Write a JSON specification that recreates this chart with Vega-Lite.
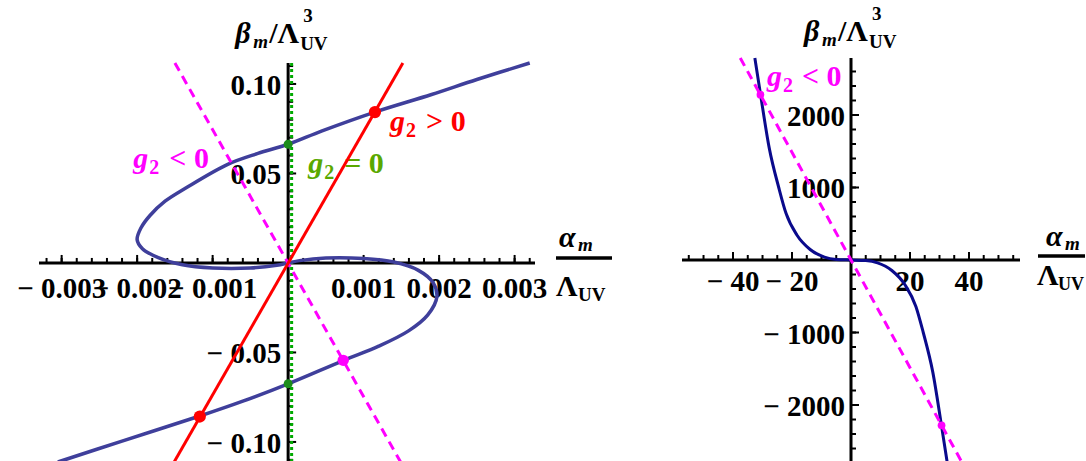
{
"$schema":"https://vega.github.io/schema/vega-lite/v6.json",
"background":"white",
"padding":{"left":17,"top":5,"right":0,"bottom":0},
"autosize":{"type":"pad"},
"config":{"view":{"stroke":null},"text":{"font":"Liberation Serif","fontWeight":"bold"}},
"bounds":"flush",
"spacing":147,
"datasets":{
"curveL":[{"o":1,"x":-0.00305,"y":-0.1112},{"o":2,"x":-0.0022,"y":-0.0995},{"o":3,"x":-0.00117,"y":-0.0855},{"o":4,"x":-0.0006,"y":-0.0772},{"o":5,"x":0,"y":-0.0675},{"o":6,"x":0.00073,"y":-0.0545},{"o":7,"x":0.0012,"y":-0.0465},{"o":8,"x":0.0016,"y":-0.0378},{"o":9,"x":0.00185,"y":-0.029},{"o":10,"x":0.00197,"y":-0.019},{"o":11,"x":0.00192,"y":-0.011},{"o":12,"x":0.00172,"y":-0.004},{"o":13,"x":0.0014,"y":0.0005},{"o":14,"x":0.001,"y":0.0025},{"o":15,"x":0.0005,"y":0.0028},{"o":16,"x":0.00015,"y":0.0013},{"o":17,"x":0,"y":0},{"o":18,"x":-0.00015,"y":-0.0013},{"o":19,"x":-0.0005,"y":-0.0028},{"o":20,"x":-0.001,"y":-0.0028},{"o":21,"x":-0.0014,"y":-0.001},{"o":22,"x":-0.00172,"y":0.003},{"o":23,"x":-0.00193,"y":0.008},{"o":24,"x":-0.002,"y":0.013},{"o":25,"x":-0.00195,"y":0.0195},{"o":26,"x":-0.00183,"y":0.0265},{"o":27,"x":-0.00163,"y":0.0345},{"o":28,"x":-0.00135,"y":0.042},{"o":29,"x":-0.0008,"y":0.0551},{"o":30,"x":-0.0004,"y":0.0612},{"o":31,"x":0,"y":0.0663},{"o":32,"x":0.00045,"y":0.0738},{"o":33,"x":0.00115,"y":0.0843},{"o":34,"x":0.0019,"y":0.0941},{"o":35,"x":0.0025,"y":0.1025},{"o":36,"x":0.0032,"y":0.1117}],
"redL":[{"x":-0.00151,"y":-0.1112},{"x":0.00152,"y":0.1117}],
"pinkL":[{"x":-0.0015,"y":0.1117},{"x":0.00149,"y":-0.1112}],
"greenL":[{"x":0,"y":-0.1112},{"x":0,"y":0.1117}],
"dotRedL":[{"x":0.00115,"y":0.0843},{"x":-0.00117,"y":-0.0858}],
"dotGreenL":[{"x":0,"y":0.0663},{"x":0,"y":-0.0675}],
"dotPinkL":[{"x":0.00073,"y":-0.0544}],
"annL":[{"x":0.00135,"y":0.0737,"s":"gt","op":"> 0"},{"x":0.000265,"y":0.0503,"s":"eq","op":"= 0"},{"x":-0.00205,"y":0.0531,"s":"lt","op":"< 0"}],
"minLX":[{"v":-0.0032},{"v":-0.003},{"v":-0.0028},{"v":-0.0026},{"v":-0.0024},{"v":-0.0022},{"v":-0.002},{"v":-0.0018},{"v":-0.0016},{"v":-0.0014},{"v":-0.0012},{"v":-0.001},{"v":-0.0008},{"v":-0.0006},{"v":-0.0004},{"v":-0.0002},{"v":0.0002},{"v":0.0004},{"v":0.0006},{"v":0.0008},{"v":0.001},{"v":0.0012},{"v":0.0014},{"v":0.0016},{"v":0.0018},{"v":0.002},{"v":0.0022},{"v":0.0024},{"v":0.0026},{"v":0.0028},{"v":0.003},{"v":0.0032}],
"minLY":[{"v":-0.11},{"v":-0.1},{"v":-0.09},{"v":-0.08},{"v":-0.07},{"v":-0.06},{"v":-0.05},{"v":-0.04},{"v":-0.03},{"v":-0.02},{"v":-0.01},{"v":0.01},{"v":0.02},{"v":0.03},{"v":0.04},{"v":0.05},{"v":0.06},{"v":0.07},{"v":0.08},{"v":0.09},{"v":0.1},{"v":0.11}],
"majLX":[{"v":-0.003,"label":"− 0.003"},{"v":-0.002,"label":"− 0.002"},{"v":-0.001,"label":"− 0.001"},{"v":0.001,"label":"0.001"},{"v":0.002,"label":"0.002"},{"v":0.003,"label":"0.003"}],
"majLY":[{"v":-0.1,"label":"− 0.10"},{"v":-0.05,"label":"− 0.05"},{"v":0.05,"label":"0.05"},{"v":0.1,"label":"0.10"}],
"curveR":[{"x":-32.6,"y":2786},{"x":-30.7,"y":2290},{"x":-27.7,"y":1540},{"x":-24.5,"y":1000},{"x":-22,"y":640},{"x":-18.35,"y":345},{"x":-13.85,"y":145},{"x":-9,"y":40},{"x":-5,"y":8},{"x":0,"y":0},{"x":5,"y":-8},{"x":9,"y":-40},{"x":13.85,"y":-145},{"x":18.35,"y":-345},{"x":22,"y":-640},{"x":24.5,"y":-1000},{"x":27.7,"y":-1540},{"x":30.7,"y":-2290},{"x":32.6,"y":-2786}],
"pinkR":[{"x":-37.55,"y":2786},{"x":37.55,"y":-2786}],
"dotPinkR":[{"x":-30.7,"y":2280},{"x":30.7,"y":-2280}],
"annR":[{"x":-28.5,"y":2400,"s":"lt","op":"< 0"}],
"minRX":[{"v":-55},{"v":-50},{"v":-45},{"v":-40},{"v":-35},{"v":-30},{"v":-25},{"v":-20},{"v":-15},{"v":-10},{"v":-5},{"v":5},{"v":10},{"v":15},{"v":20},{"v":25},{"v":30},{"v":35},{"v":40},{"v":45},{"v":50},{"v":55}],
"minRY":[{"v":-2600},{"v":-2400},{"v":-2200},{"v":-2000},{"v":-1800},{"v":-1600},{"v":-1400},{"v":-1200},{"v":-1000},{"v":-800},{"v":-600},{"v":-400},{"v":-200},{"v":200},{"v":400},{"v":600},{"v":800},{"v":1000},{"v":1200},{"v":1400},{"v":1600},{"v":1800},{"v":2000},{"v":2200},{"v":2400},{"v":2600}],
"majRX":[{"v":-40,"label":"− 40"},{"v":-20,"label":"− 20"},{"v":20,"label":"20"},{"v":40,"label":"40"}],
"majRY":[{"v":-2000,"label":"− 2000"},{"v":-1000,"label":"− 1000"},{"v":1000,"label":"1000"},{"v":2000,"label":"2000"}]
},
"hconcat":[
{
"width":496,"height":404,
"data":{"values":[{}]},
"layer":[
{"data":{"name":"majLX"},"mark":{"type":"text","fontSize":29,"align":"center","baseline":"alphabetic","dy":35},
 "encoding":{"x":{"field":"v","type":"quantitative","scale":{"domain":[-0.0033,0.00327],"nice":false,"zero":false},"axis":null},"y":{"datum":0,"type":"quantitative","scale":{"domain":[-0.1112,0.1145],"nice":false,"zero":false},"axis":null},"text":{"field":"label"}}},
{"data":{"name":"majLY"},"mark":{"type":"text","fontSize":29,"align":"right","baseline":"middle","dx":-7,"dy":2},
 "encoding":{"x":{"datum":0,"type":"quantitative","scale":{"domain":[-0.0033,0.00327],"nice":false,"zero":false},"axis":null},"y":{"field":"v","type":"quantitative","scale":{"domain":[-0.1112,0.1145],"nice":false,"zero":false},"axis":null},"text":{"field":"label"}}},
{"mark":{"type":"text","text":"β","fontStyle":"italic","fontSize":30,"align":"left","baseline":"alphabetic","dx":-53,"dy":-15},
 "encoding":{"x":{"datum":0,"type":"quantitative","scale":{"domain":[-0.0033,0.00327],"nice":false,"zero":false},"axis":null},"y":{"datum":0.1145,"type":"quantitative","scale":{"domain":[-0.1112,0.1145],"nice":false,"zero":false},"axis":null}}},
{"mark":{"type":"text","text":"m","fontStyle":"italic","fontSize":19,"align":"left","baseline":"alphabetic","dx":-35,"dy":-10},
 "encoding":{"x":{"datum":0,"type":"quantitative","scale":{"domain":[-0.0033,0.00327],"nice":false,"zero":false},"axis":null},"y":{"datum":0.1145,"type":"quantitative","scale":{"domain":[-0.1112,0.1145],"nice":false,"zero":false},"axis":null}}},
{"mark":{"type":"text","text":"/Λ","fontSize":30,"align":"left","baseline":"alphabetic","dx":-19,"dy":-15},
 "encoding":{"x":{"datum":0,"type":"quantitative","scale":{"domain":[-0.0033,0.00327],"nice":false,"zero":false},"axis":null},"y":{"datum":0.1145,"type":"quantitative","scale":{"domain":[-0.1112,0.1145],"nice":false,"zero":false},"axis":null}}},
{"mark":{"type":"text","text":"3","fontSize":19,"align":"left","baseline":"alphabetic","dx":15,"dy":-36},
 "encoding":{"x":{"datum":0,"type":"quantitative","scale":{"domain":[-0.0033,0.00327],"nice":false,"zero":false},"axis":null},"y":{"datum":0.1145,"type":"quantitative","scale":{"domain":[-0.1112,0.1145],"nice":false,"zero":false},"axis":null}}},
{"mark":{"type":"text","text":"UV","fontSize":19,"align":"left","baseline":"alphabetic","dx":12,"dy":-8},
 "encoding":{"x":{"datum":0,"type":"quantitative","scale":{"domain":[-0.0033,0.00327],"nice":false,"zero":false},"axis":null},"y":{"datum":0.1145,"type":"quantitative","scale":{"domain":[-0.1112,0.1145],"nice":false,"zero":false},"axis":null}}},
{"mark":{"type":"text","text":"α","fontStyle":"italic","fontSize":30,"align":"left","baseline":"alphabetic","dx":24,"dy":-16},
 "encoding":{"x":{"datum":0.00327,"type":"quantitative","scale":{"domain":[-0.0033,0.00327],"nice":false,"zero":false},"axis":null},"y":{"datum":0,"type":"quantitative","scale":{"domain":[-0.1112,0.1145],"nice":false,"zero":false},"axis":null}}},
{"mark":{"type":"text","text":"m","fontStyle":"italic","fontSize":19,"align":"left","baseline":"alphabetic","dx":43,"dy":-12},
 "encoding":{"x":{"datum":0.00327,"type":"quantitative","scale":{"domain":[-0.0033,0.00327],"nice":false,"zero":false},"axis":null},"y":{"datum":0,"type":"quantitative","scale":{"domain":[-0.1112,0.1145],"nice":false,"zero":false},"axis":null}}},
{"mark":{"type":"rule","color":"black","strokeWidth":3.5,"xOffset":21,"x2Offset":77,"yOffset":-5,"y2Offset":-5},
 "encoding":{"x":{"datum":0.00327,"type":"quantitative","scale":{"domain":[-0.0033,0.00327],"nice":false,"zero":false},"axis":null},"x2":{"datum":0.00327},"y":{"datum":0,"type":"quantitative","scale":{"domain":[-0.1112,0.1145],"nice":false,"zero":false},"axis":null}}},
{"mark":{"type":"text","text":"Λ","fontSize":30,"align":"left","baseline":"alphabetic","dx":21,"dy":33},
 "encoding":{"x":{"datum":0.00327,"type":"quantitative","scale":{"domain":[-0.0033,0.00327],"nice":false,"zero":false},"axis":null},"y":{"datum":0,"type":"quantitative","scale":{"domain":[-0.1112,0.1145],"nice":false,"zero":false},"axis":null}}},
{"mark":{"type":"text","text":"UV","fontSize":19,"align":"left","baseline":"alphabetic","dx":43,"dy":38},
 "encoding":{"x":{"datum":0.00327,"type":"quantitative","scale":{"domain":[-0.0033,0.00327],"nice":false,"zero":false},"axis":null},"y":{"datum":0,"type":"quantitative","scale":{"domain":[-0.1112,0.1145],"nice":false,"zero":false},"axis":null}}},
{"data":{"name":"annL"},"mark":{"type":"text","text":"g","fontStyle":"italic","fontSize":30,"align":"left","baseline":"alphabetic"},
 "encoding":{"x":{"field":"x","type":"quantitative","scale":{"domain":[-0.0033,0.00327],"nice":false,"zero":false},"axis":null},"y":{"field":"y","type":"quantitative","scale":{"domain":[-0.1112,0.1145],"nice":false,"zero":false},"axis":null},"color":{"field":"s","type":"nominal","scale":{"domain":["gt","eq","lt"],"range":["#ff0000","#5aa800","#ff00ff"]},"legend":null}}},
{"data":{"name":"annL"},"mark":{"type":"text","text":"2","fontSize":20,"align":"left","baseline":"alphabetic","dx":16,"dy":6},
 "encoding":{"x":{"field":"x","type":"quantitative","scale":{"domain":[-0.0033,0.00327],"nice":false,"zero":false},"axis":null},"y":{"field":"y","type":"quantitative","scale":{"domain":[-0.1112,0.1145],"nice":false,"zero":false},"axis":null},"color":{"field":"s","type":"nominal","scale":{"domain":["gt","eq","lt"],"range":["#ff0000","#5aa800","#ff00ff"]},"legend":null}}},
{"data":{"name":"annL"},"mark":{"type":"text","fontSize":30,"align":"left","baseline":"alphabetic","dx":36},
 "encoding":{"x":{"field":"x","type":"quantitative","scale":{"domain":[-0.0033,0.00327],"nice":false,"zero":false},"axis":null},"y":{"field":"y","type":"quantitative","scale":{"domain":[-0.1112,0.1145],"nice":false,"zero":false},"axis":null},"text":{"field":"op"},"color":{"field":"s","type":"nominal","scale":{"domain":["gt","eq","lt"],"range":["#ff0000","#5aa800","#ff00ff"]},"legend":null}}},
{"mark":{"type":"rule","color":"black","strokeWidth":3},
 "encoding":{"x":{"datum":-0.0033,"type":"quantitative","scale":{"domain":[-0.0033,0.00327],"nice":false,"zero":false},"axis":null},"x2":{"datum":0.00327},"y":{"datum":0,"type":"quantitative","scale":{"domain":[-0.1112,0.1145],"nice":false,"zero":false},"axis":null}}},
{"mark":{"type":"rule","color":"black","strokeWidth":3},
 "encoding":{"x":{"datum":0,"type":"quantitative","scale":{"domain":[-0.0033,0.00327],"nice":false,"zero":false},"axis":null},"y":{"datum":-0.1112,"type":"quantitative","scale":{"domain":[-0.1112,0.1145],"nice":false,"zero":false},"axis":null},"y2":{"datum":0.1117}}},
{"data":{"name":"minLX"},"mark":{"type":"rule","color":"black","strokeWidth":2,"y2Offset":-5},
 "encoding":{"x":{"field":"v","type":"quantitative","scale":{"domain":[-0.0033,0.00327],"nice":false,"zero":false},"axis":null},"y":{"datum":0,"type":"quantitative","scale":{"domain":[-0.1112,0.1145],"nice":false,"zero":false},"axis":null},"y2":{"datum":0}}},
{"data":{"name":"majLX"},"mark":{"type":"rule","color":"black","strokeWidth":2,"y2Offset":-8},
 "encoding":{"x":{"field":"v","type":"quantitative","scale":{"domain":[-0.0033,0.00327],"nice":false,"zero":false},"axis":null},"y":{"datum":0,"type":"quantitative","scale":{"domain":[-0.1112,0.1145],"nice":false,"zero":false},"axis":null},"y2":{"datum":0}}},
{"data":{"name":"minLY"},"mark":{"type":"rule","color":"black","strokeWidth":2,"x2Offset":5},
 "encoding":{"y":{"field":"v","type":"quantitative","scale":{"domain":[-0.1112,0.1145],"nice":false,"zero":false},"axis":null},"x":{"datum":0,"type":"quantitative","scale":{"domain":[-0.0033,0.00327],"nice":false,"zero":false},"axis":null},"x2":{"datum":0}}},
{"data":{"name":"majLY"},"mark":{"type":"rule","color":"black","strokeWidth":2,"x2Offset":8},
 "encoding":{"y":{"field":"v","type":"quantitative","scale":{"domain":[-0.1112,0.1145],"nice":false,"zero":false},"axis":null},"x":{"datum":0,"type":"quantitative","scale":{"domain":[-0.0033,0.00327],"nice":false,"zero":false},"axis":null},"x2":{"datum":0}}},
{"data":{"name":"greenL"},"mark":{"type":"line","color":"#00aa00","strokeWidth":3,"strokeDash":[3,3],"xOffset":3.5},
 "encoding":{"x":{"field":"x","type":"quantitative","scale":{"domain":[-0.0033,0.00327],"nice":false,"zero":false},"axis":null},"y":{"field":"y","type":"quantitative","scale":{"domain":[-0.1112,0.1145],"nice":false,"zero":false},"axis":null},"order":{"field":"y","type":"quantitative"}}},
{"data":{"name":"curveL"},"mark":{"type":"line","color":"#3f3f9b","strokeWidth":3.5,"interpolate":"catmull-rom"},
 "encoding":{"x":{"field":"x","type":"quantitative","scale":{"domain":[-0.0033,0.00327],"nice":false,"zero":false},"axis":null},"y":{"field":"y","type":"quantitative","scale":{"domain":[-0.1112,0.1145],"nice":false,"zero":false},"axis":null},"order":{"field":"o","type":"quantitative"}}},
{"data":{"name":"pinkL"},"mark":{"type":"line","color":"#ff00ff","strokeWidth":3,"strokeDash":[9,6]},
 "encoding":{"x":{"field":"x","type":"quantitative","scale":{"domain":[-0.0033,0.00327],"nice":false,"zero":false},"axis":null},"y":{"field":"y","type":"quantitative","scale":{"domain":[-0.1112,0.1145],"nice":false,"zero":false},"axis":null}}},
{"data":{"name":"redL"},"mark":{"type":"line","color":"#ff0000","strokeWidth":3},
 "encoding":{"x":{"field":"x","type":"quantitative","scale":{"domain":[-0.0033,0.00327],"nice":false,"zero":false},"axis":null},"y":{"field":"y","type":"quantitative","scale":{"domain":[-0.1112,0.1145],"nice":false,"zero":false},"axis":null}}},
{"data":{"name":"dotGreenL"},"mark":{"type":"point","filled":true,"shape":"circle","size":80,"opacity":1,"color":"#1c8c1c"},
 "encoding":{"x":{"field":"x","type":"quantitative","scale":{"domain":[-0.0033,0.00327],"nice":false,"zero":false},"axis":null},"y":{"field":"y","type":"quantitative","scale":{"domain":[-0.1112,0.1145],"nice":false,"zero":false},"axis":null}}},
{"data":{"name":"dotRedL"},"mark":{"type":"point","filled":true,"shape":"circle","size":150,"opacity":1,"color":"#ff0000"},
 "encoding":{"x":{"field":"x","type":"quantitative","scale":{"domain":[-0.0033,0.00327],"nice":false,"zero":false},"axis":null},"y":{"field":"y","type":"quantitative","scale":{"domain":[-0.1112,0.1145],"nice":false,"zero":false},"axis":null}}},
{"data":{"name":"dotPinkL"},"mark":{"type":"point","filled":true,"shape":"circle","size":130,"opacity":1,"color":"#ff00ff"},
 "encoding":{"x":{"field":"x","type":"quantitative","scale":{"domain":[-0.0033,0.00327],"nice":false,"zero":false},"axis":null},"y":{"field":"y","type":"quantitative","scale":{"domain":[-0.1112,0.1145],"nice":false,"zero":false},"axis":null}}}
]
},
{
"width":338,"height":404,
"data":{"values":[{}]},
"layer":[
{"data":{"name":"majRX"},"mark":{"type":"text","fontSize":29,"align":"center","baseline":"alphabetic","dy":31},
 "encoding":{"x":{"field":"v","type":"quantitative","scale":{"domain":[-57.3,57.3],"nice":false,"zero":false},"axis":null},"y":{"datum":0,"type":"quantitative","scale":{"domain":[-2786,2786],"nice":false,"zero":false},"axis":null},"text":{"field":"label"}}},
{"data":{"name":"majRY"},"mark":{"type":"text","fontSize":29,"align":"right","baseline":"middle","dx":-6,"dy":2},
 "encoding":{"x":{"datum":0,"type":"quantitative","scale":{"domain":[-57.3,57.3],"nice":false,"zero":false},"axis":null},"y":{"field":"v","type":"quantitative","scale":{"domain":[-2786,2786],"nice":false,"zero":false},"axis":null},"text":{"field":"label"}}},
{"mark":{"type":"text","text":"β","fontStyle":"italic","fontSize":30,"align":"left","baseline":"alphabetic","dx":-47,"dy":-17},
 "encoding":{"x":{"datum":0,"type":"quantitative","scale":{"domain":[-57.3,57.3],"nice":false,"zero":false},"axis":null},"y":{"datum":2786,"type":"quantitative","scale":{"domain":[-2786,2786],"nice":false,"zero":false},"axis":null}}},
{"mark":{"type":"text","text":"m","fontStyle":"italic","fontSize":19,"align":"left","baseline":"alphabetic","dx":-29,"dy":-12},
 "encoding":{"x":{"datum":0,"type":"quantitative","scale":{"domain":[-57.3,57.3],"nice":false,"zero":false},"axis":null},"y":{"datum":2786,"type":"quantitative","scale":{"domain":[-2786,2786],"nice":false,"zero":false},"axis":null}}},
{"mark":{"type":"text","text":"/Λ","fontSize":30,"align":"left","baseline":"alphabetic","dx":-13,"dy":-17},
 "encoding":{"x":{"datum":0,"type":"quantitative","scale":{"domain":[-57.3,57.3],"nice":false,"zero":false},"axis":null},"y":{"datum":2786,"type":"quantitative","scale":{"domain":[-2786,2786],"nice":false,"zero":false},"axis":null}}},
{"mark":{"type":"text","text":"3","fontSize":19,"align":"left","baseline":"alphabetic","dx":21,"dy":-38},
 "encoding":{"x":{"datum":0,"type":"quantitative","scale":{"domain":[-57.3,57.3],"nice":false,"zero":false},"axis":null},"y":{"datum":2786,"type":"quantitative","scale":{"domain":[-2786,2786],"nice":false,"zero":false},"axis":null}}},
{"mark":{"type":"text","text":"UV","fontSize":19,"align":"left","baseline":"alphabetic","dx":18,"dy":-10},
 "encoding":{"x":{"datum":0,"type":"quantitative","scale":{"domain":[-57.3,57.3],"nice":false,"zero":false},"axis":null},"y":{"datum":2786,"type":"quantitative","scale":{"domain":[-2786,2786],"nice":false,"zero":false},"axis":null}}},
{"mark":{"type":"text","text":"α","fontStyle":"italic","fontSize":30,"align":"left","baseline":"alphabetic","dx":26,"dy":-14},
 "encoding":{"x":{"datum":57.3,"type":"quantitative","scale":{"domain":[-57.3,57.3],"nice":false,"zero":false},"axis":null},"y":{"datum":0,"type":"quantitative","scale":{"domain":[-2786,2786],"nice":false,"zero":false},"axis":null}}},
{"mark":{"type":"text","text":"m","fontStyle":"italic","fontSize":19,"align":"left","baseline":"alphabetic","dx":45,"dy":-10},
 "encoding":{"x":{"datum":57.3,"type":"quantitative","scale":{"domain":[-57.3,57.3],"nice":false,"zero":false},"axis":null},"y":{"datum":0,"type":"quantitative","scale":{"domain":[-2786,2786],"nice":false,"zero":false},"axis":null}}},
{"mark":{"type":"rule","color":"black","strokeWidth":3.5,"xOffset":18,"x2Offset":65,"yOffset":-4,"y2Offset":-4},
 "encoding":{"x":{"datum":57.3,"type":"quantitative","scale":{"domain":[-57.3,57.3],"nice":false,"zero":false},"axis":null},"x2":{"datum":57.3},"y":{"datum":0,"type":"quantitative","scale":{"domain":[-2786,2786],"nice":false,"zero":false},"axis":null}}},
{"mark":{"type":"text","text":"Λ","fontSize":30,"align":"left","baseline":"alphabetic","dx":17,"dy":25},
 "encoding":{"x":{"datum":57.3,"type":"quantitative","scale":{"domain":[-57.3,57.3],"nice":false,"zero":false},"axis":null},"y":{"datum":0,"type":"quantitative","scale":{"domain":[-2786,2786],"nice":false,"zero":false},"axis":null}}},
{"mark":{"type":"text","text":"UV","fontSize":18,"align":"left","baseline":"alphabetic","dx":38,"dy":30},
 "encoding":{"x":{"datum":57.3,"type":"quantitative","scale":{"domain":[-57.3,57.3],"nice":false,"zero":false},"axis":null},"y":{"datum":0,"type":"quantitative","scale":{"domain":[-2786,2786],"nice":false,"zero":false},"axis":null}}},
{"data":{"name":"annR"},"mark":{"type":"text","text":"g","fontStyle":"italic","fontSize":30,"align":"left","baseline":"alphabetic"},
 "encoding":{"x":{"field":"x","type":"quantitative","scale":{"domain":[-57.3,57.3],"nice":false,"zero":false},"axis":null},"y":{"field":"y","type":"quantitative","scale":{"domain":[-2786,2786],"nice":false,"zero":false},"axis":null},"color":{"field":"s","type":"nominal","scale":{"domain":["gt","eq","lt"],"range":["#ff0000","#5aa800","#ff00ff"]},"legend":null}}},
{"data":{"name":"annR"},"mark":{"type":"text","text":"2","fontSize":20,"align":"left","baseline":"alphabetic","dx":16,"dy":6},
 "encoding":{"x":{"field":"x","type":"quantitative","scale":{"domain":[-57.3,57.3],"nice":false,"zero":false},"axis":null},"y":{"field":"y","type":"quantitative","scale":{"domain":[-2786,2786],"nice":false,"zero":false},"axis":null},"color":{"field":"s","type":"nominal","scale":{"domain":["gt","eq","lt"],"range":["#ff0000","#5aa800","#ff00ff"]},"legend":null}}},
{"data":{"name":"annR"},"mark":{"type":"text","fontSize":30,"align":"left","baseline":"alphabetic","dx":35},
 "encoding":{"x":{"field":"x","type":"quantitative","scale":{"domain":[-57.3,57.3],"nice":false,"zero":false},"axis":null},"y":{"field":"y","type":"quantitative","scale":{"domain":[-2786,2786],"nice":false,"zero":false},"axis":null},"text":{"field":"op"},"color":{"field":"s","type":"nominal","scale":{"domain":["gt","eq","lt"],"range":["#ff0000","#5aa800","#ff00ff"]},"legend":null}}},
{"mark":{"type":"rule","color":"black","strokeWidth":3},
 "encoding":{"x":{"datum":-57.3,"type":"quantitative","scale":{"domain":[-57.3,57.3],"nice":false,"zero":false},"axis":null},"x2":{"datum":57.3},"y":{"datum":0,"type":"quantitative","scale":{"domain":[-2786,2786],"nice":false,"zero":false},"axis":null}}},
{"mark":{"type":"rule","color":"black","strokeWidth":3},
 "encoding":{"x":{"datum":0,"type":"quantitative","scale":{"domain":[-57.3,57.3],"nice":false,"zero":false},"axis":null},"y":{"datum":-2786,"type":"quantitative","scale":{"domain":[-2786,2786],"nice":false,"zero":false},"axis":null},"y2":{"datum":2786}}},
{"data":{"name":"minRX"},"mark":{"type":"rule","color":"black","strokeWidth":2,"y2Offset":-5},
 "encoding":{"x":{"field":"v","type":"quantitative","scale":{"domain":[-57.3,57.3],"nice":false,"zero":false},"axis":null},"y":{"datum":0,"type":"quantitative","scale":{"domain":[-2786,2786],"nice":false,"zero":false},"axis":null},"y2":{"datum":0}}},
{"data":{"name":"majRX"},"mark":{"type":"rule","color":"black","strokeWidth":2,"y2Offset":-8},
 "encoding":{"x":{"field":"v","type":"quantitative","scale":{"domain":[-57.3,57.3],"nice":false,"zero":false},"axis":null},"y":{"datum":0,"type":"quantitative","scale":{"domain":[-2786,2786],"nice":false,"zero":false},"axis":null},"y2":{"datum":0}}},
{"data":{"name":"minRY"},"mark":{"type":"rule","color":"black","strokeWidth":2,"x2Offset":5},
 "encoding":{"y":{"field":"v","type":"quantitative","scale":{"domain":[-2786,2786],"nice":false,"zero":false},"axis":null},"x":{"datum":0,"type":"quantitative","scale":{"domain":[-57.3,57.3],"nice":false,"zero":false},"axis":null},"x2":{"datum":0}}},
{"data":{"name":"majRY"},"mark":{"type":"rule","color":"black","strokeWidth":2,"x2Offset":8},
 "encoding":{"y":{"field":"v","type":"quantitative","scale":{"domain":[-2786,2786],"nice":false,"zero":false},"axis":null},"x":{"datum":0,"type":"quantitative","scale":{"domain":[-57.3,57.3],"nice":false,"zero":false},"axis":null},"x2":{"datum":0}}},
{"data":{"name":"curveR"},"mark":{"type":"line","color":"#0a0a8c","strokeWidth":3,"interpolate":"monotone"},
 "encoding":{"x":{"field":"x","type":"quantitative","scale":{"domain":[-57.3,57.3],"nice":false,"zero":false},"axis":null},"y":{"field":"y","type":"quantitative","scale":{"domain":[-2786,2786],"nice":false,"zero":false},"axis":null}}},
{"data":{"name":"pinkR"},"mark":{"type":"line","color":"#ff00ff","strokeWidth":3,"strokeDash":[9,6]},
 "encoding":{"x":{"field":"x","type":"quantitative","scale":{"domain":[-57.3,57.3],"nice":false,"zero":false},"axis":null},"y":{"field":"y","type":"quantitative","scale":{"domain":[-2786,2786],"nice":false,"zero":false},"axis":null}}},
{"data":{"name":"dotPinkR"},"mark":{"type":"point","filled":true,"shape":"circle","size":60,"opacity":1,"color":"#ff00ff"},
 "encoding":{"x":{"field":"x","type":"quantitative","scale":{"domain":[-57.3,57.3],"nice":false,"zero":false},"axis":null},"y":{"field":"y","type":"quantitative","scale":{"domain":[-2786,2786],"nice":false,"zero":false},"axis":null}}}
]
}
]
}
